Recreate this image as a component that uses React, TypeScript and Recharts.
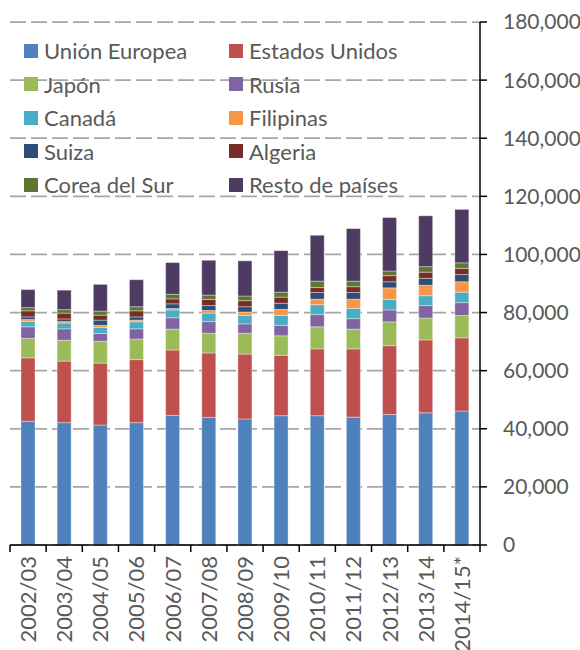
import React from "react";
import {
  BarChart,
  Bar,
  XAxis,
  YAxis,
  CartesianGrid,
  Legend,
} from "recharts";

// campañas
const CATEGORIES = [
  "2002/03",
  "2003/04",
  "2004/05",
  "2005/06",
  "2006/07",
  "2007/08",
  "2008/09",
  "2009/10",
  "2010/11",
  "2011/12",
  "2012/13",
  "2013/14",
  "2014/15*",
];

// valores por destino
const UNION_EUROPEA = [42600, 42100, 41300, 42100, 44600, 43900, 43400, 44500, 44500, 44000, 44900, 45500, 46100];
const ESTADOS_UNIDOS = [21800, 21200, 21300, 21700, 22500, 22200, 22300, 20800, 23000, 23500, 23700, 25100, 25200];
const JAPON = [6700, 7200, 7500, 7100, 7200, 6800, 7200, 6700, 7600, 6800, 8200, 7500, 7700];
const RUSIA = [4000, 3900, 2700, 3500, 3900, 4000, 3200, 3600, 4200, 3600, 4100, 4300, 4400];
const CANADA = [1900, 2000, 2100, 2400, 2700, 2900, 2900, 3400, 3400, 3500, 3600, 3400, 3600];
const FILIPINAS = [600, 500, 700, 600, 500, 900, 1200, 2100, 1900, 3200, 4000, 3600, 3600];
const SUIZA = [900, 900, 1800, 1100, 1600, 1700, 1800, 2100, 2300, 2300, 2100, 2400, 2500];
const ALGERIA = [2100, 2000, 1700, 2100, 1700, 2100, 2100, 2100, 1700, 2000, 2100, 2100, 2100];
const COREA_DEL_SUR = [1100, 1200, 1400, 1400, 1600, 1500, 1600, 1700, 2200, 1900, 1600, 1900, 1900];
const RESTO = [6200, 6700, 9200, 9300, 10900, 12000, 12100, 14300, 15800, 18100, 18400, 17500, 18400];

const Y_TICKS = [0, 20000, 40000, 60000, 80000, 100000, 120000, 140000, 160000, 180000];

const SERIES = [
  { key: "ue", name: "Unión Europea", color: "#4F81BD", values: UNION_EUROPEA },
  { key: "eeuu", name: "Estados Unidos", color: "#C0504D", values: ESTADOS_UNIDOS },
  { key: "japon", name: "Japón", color: "#9BBB59", values: JAPON },
  { key: "rusia", name: "Rusia", color: "#8064A2", values: RUSIA },
  { key: "canada", name: "Canadá", color: "#4BACC6", values: CANADA },
  { key: "filipinas", name: "Filipinas", color: "#F79646", values: FILIPINAS },
  { key: "suiza", name: "Suiza", color: "#2C4D75", values: SUIZA },
  { key: "algeria", name: "Algeria", color: "#772C2A", values: ALGERIA },
  { key: "corea", name: "Corea del Sur", color: "#5F7530", values: COREA_DEL_SUR },
  { key: "resto", name: "Resto de países", color: "#4D3B62", values: RESTO },
];

const data = CATEGORIES.map((periodo, i) => {
  const row: Record<string, string | number> = { periodo };
  SERIES.forEach((s) => {
    row[s.key] = s.values[i];
  });
  return row;
});

const FONT = "Lato, 'Liberation Sans', sans-serif";
const TEXT = "#595959";
const WIDTH = 580;
const HEIGHT = 650;
const MARGIN = { top: 22, right: 0, left: 10, bottom: 0 };
const Y_AXIS_W = 100;
const HALF_BAND = (WIDTH - MARGIN.left - MARGIN.right - Y_AXIS_W) / CATEGORIES.length / 2;

const XTick = (props: any) => {
  const { x, y, payload, index } = props;
  const last = index === CATEGORIES.length - 1;
  return (
    <g>
      <line x1={x - HALF_BAND} x2={x - HALF_BAND} y1={y} y2={y + 7} stroke="#000" strokeWidth={1.5} />
      {last && (
        <line x1={x + HALF_BAND} x2={x + HALF_BAND} y1={y} y2={y + 7} stroke="#000" strokeWidth={1.5} />
      )}
      <text
        x={x}
        y={y + 11}
        transform={`rotate(-90, ${x}, ${y + 11})`}
        textAnchor="end"
        dy="0.36em"
        fill={TEXT}
        fontSize={22}
        fontFamily={FONT}
      >
        {payload.value}
      </text>
    </g>
  );
};

const renderLegend = (props: any) => {
  const order = SERIES.map((s) => s.name);
  const items = [...(props.payload || [])].sort(
    (a: any, b: any) => order.indexOf(a.value) - order.indexOf(b.value)
  );
  return (
    <div
      style={{
        display: "grid",
        gridTemplateColumns: "205px 215px",
        fontFamily: FONT,
        fontSize: 22,
        color: TEXT,
      }}
    >
      {items.map((item: any) => (
        <div
          key={item.value}
          style={{ display: "flex", alignItems: "center", height: 33.5, whiteSpace: "nowrap" }}
        >
          <span
            style={{
              display: "inline-block",
              width: 14,
              height: 14,
              background: item.color,
              marginRight: 6,
            }}
          />
          {item.value}
        </div>
      ))}
    </div>
  );
};

export default function App() {
  return (
    <div style={{ position: "absolute", left: 0, top: 0, background: "#fff" }}>
      <BarChart width={WIDTH} height={HEIGHT} data={data} margin={MARGIN} barSize={14}>
        <CartesianGrid
          vertical={false}
          stroke="#A6A6A6"
          strokeWidth={1.75}
          strokeDasharray="16 5"
        />
        <XAxis
          dataKey="periodo"
          height={105}
          interval={0}
          tickLine={false}
          tickSize={0}
          tickMargin={0}
          axisLine={{ stroke: "#000", strokeWidth: 1.5 }}
          tick={<XTick />}
        />
        <YAxis
          orientation="right"
          width={Y_AXIS_W}
          domain={[0, 180000]}
          ticks={Y_TICKS}
          interval={0}
          tickFormatter={(v: number) => v.toLocaleString("en-US")}
          axisLine={{ stroke: "#000", strokeWidth: 1.5 }}
          tickLine={{ stroke: "#000", strokeWidth: 1.5 }}
          tickSize={7}
          tickMargin={16}
          tick={{ fill: TEXT, fontSize: 21, fontFamily: FONT }}
        />
        <Legend
          layout="horizontal"
          verticalAlign="middle"
          content={renderLegend}
          wrapperStyle={{ left: 24, top: 34, width: 420 }}
        />
        {SERIES.map((s) => (
          <Bar
            key={s.key}
            dataKey={s.key}
            name={s.name}
            stackId="a"
            fill={s.color}
            stroke="#ffffff"
            strokeOpacity={0.6}
            strokeWidth={0.6}
            isAnimationActive={false}
          />
        ))}
      </BarChart>
    </div>
  );
}
